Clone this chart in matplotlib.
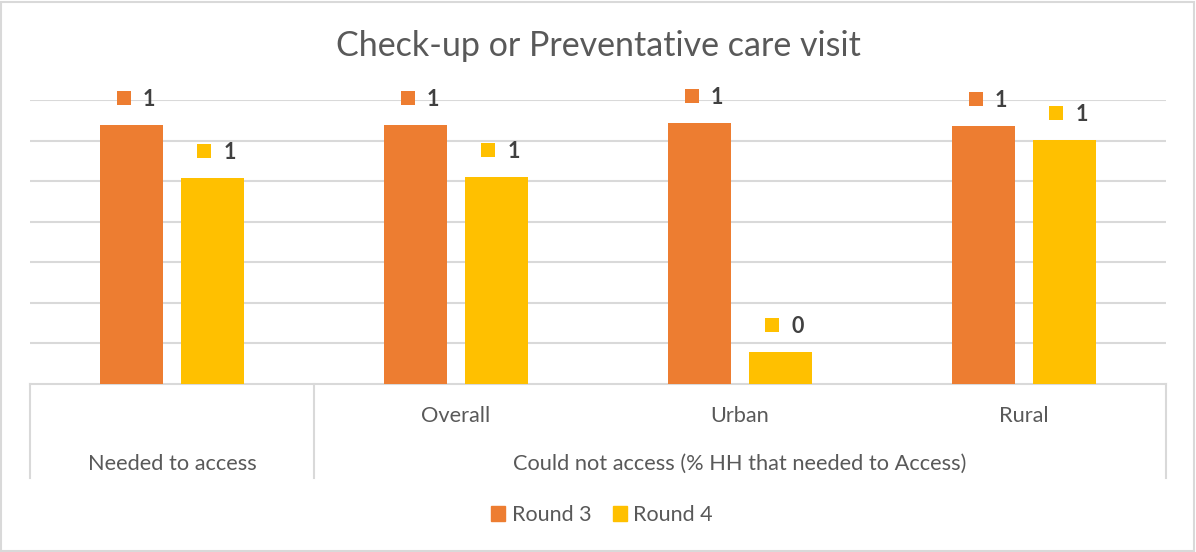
import matplotlib
matplotlib.use("Agg")
import matplotlib.pyplot as plt
from matplotlib.transforms import offset_copy
from matplotlib.patches import Rectangle

# data
groups = ["Needed to access", "Could not access (% HH that needed to Access)"]
categories = ["", "Overall", "Urban", "Rural"]
round3 = [0.638, 0.638, 0.644, 0.637]
round4 = [0.508, 0.509, 0.080, 0.601]
series_names = ["Round 3", "Round 4"]
colors = ["#ED7D31", "#FFC000"]

plt.rcParams["font.family"] = ["Lato", "DejaVu Sans"]
text_gray = "#595959"
grid_gray = "#D9D9D9"

W, H = 1196, 552
fig = plt.figure(figsize=(W / 100, H / 100), dpi=100)
ax = fig.add_axes([30 / W, 1 - 384 / H, 1136 / W, 284 / H])

x = list(range(len(categories)))
offset = 0.142
width = 0.224
for vals, off, col, name in zip([round3, round4], [-offset, offset], colors, series_names):
    ax.bar([i + off for i in x], vals, width=width, color=col, label=name, zorder=3)
    # value labels with a small legend key to the left
    key_tr = offset_copy(ax.transData, fig=fig, x=-8, y=27, units="dots")
    txt_tr = offset_copy(ax.transData, fig=fig, x=11, y=19, units="dots")
    for i, v in zip(x, vals):
        ax.plot(i + off, v, marker="s", ms=10.1, mew=0, color=col,
                transform=key_tr, clip_on=False, zorder=4)
        ax.text(i + off, v, f"{v:.0f}", transform=txt_tr, ha="left", va="baseline",
                fontsize=15.5, fontweight="bold", color="#404040", clip_on=False)

ax.set_xlim(-0.5, 3.5)
ax.set_ylim(0, 0.7)
ax.set_yticks([0.1, 0.2, 0.3, 0.4, 0.5, 0.6, 0.7])
ax.yaxis.grid(True, color=grid_gray, lw=1.5, zorder=0)
ax.tick_params(left=False, bottom=False, labelleft=False, labelbottom=False)
for s in ax.spines.values():
    s.set_visible(False)

# category table under the axis
xt = ax.get_xaxis_transform()
ax.plot([-0.5, 3.5], [0, 0], color=grid_gray, lw=1.5, transform=xt, clip_on=False, zorder=2)
for xv in [-0.5, 0.5, 3.5]:
    ax.plot([xv, xv], [0, -0.331], color=grid_gray, lw=1.5, transform=xt, clip_on=False)
for i, c in zip(x, categories):
    ax.text(i, -0.1127, c, transform=xt, ha="center", va="center", fontsize=15.7, color=text_gray)
ax.text(0, -0.2817, groups[0], transform=xt, ha="center", va="center", fontsize=15.7, color=text_gray)
ax.text(2, -0.2817, groups[1], transform=xt, ha="center", va="center", fontsize=15.7, color=text_gray)

fig.text(0.5, 1 - 46 / H, "Check-up or Preventative care visit", ha="center", va="center",
         fontsize=24.5, color=text_gray)

handles = [Rectangle((0, 0), 1, 1, color=c) for c in colors]
fig.legend(handles, series_names, loc="center", bbox_to_anchor=(602 / W, 1 - 515 / H),
           ncol=2, frameon=False, fontsize=15.5, labelcolor=text_gray,
           handlelength=0.65, handleheight=0.65, handletextpad=0.3, columnspacing=1.0)

# chart border
fig.patches.append(Rectangle((1 / W, 1 / H), 1 - 3 / W, 1 - 3 / H, transform=fig.transFigure,
                             fill=False, edgecolor=grid_gray, lw=1.5))

fig.savefig("out.png", dpi=100)
